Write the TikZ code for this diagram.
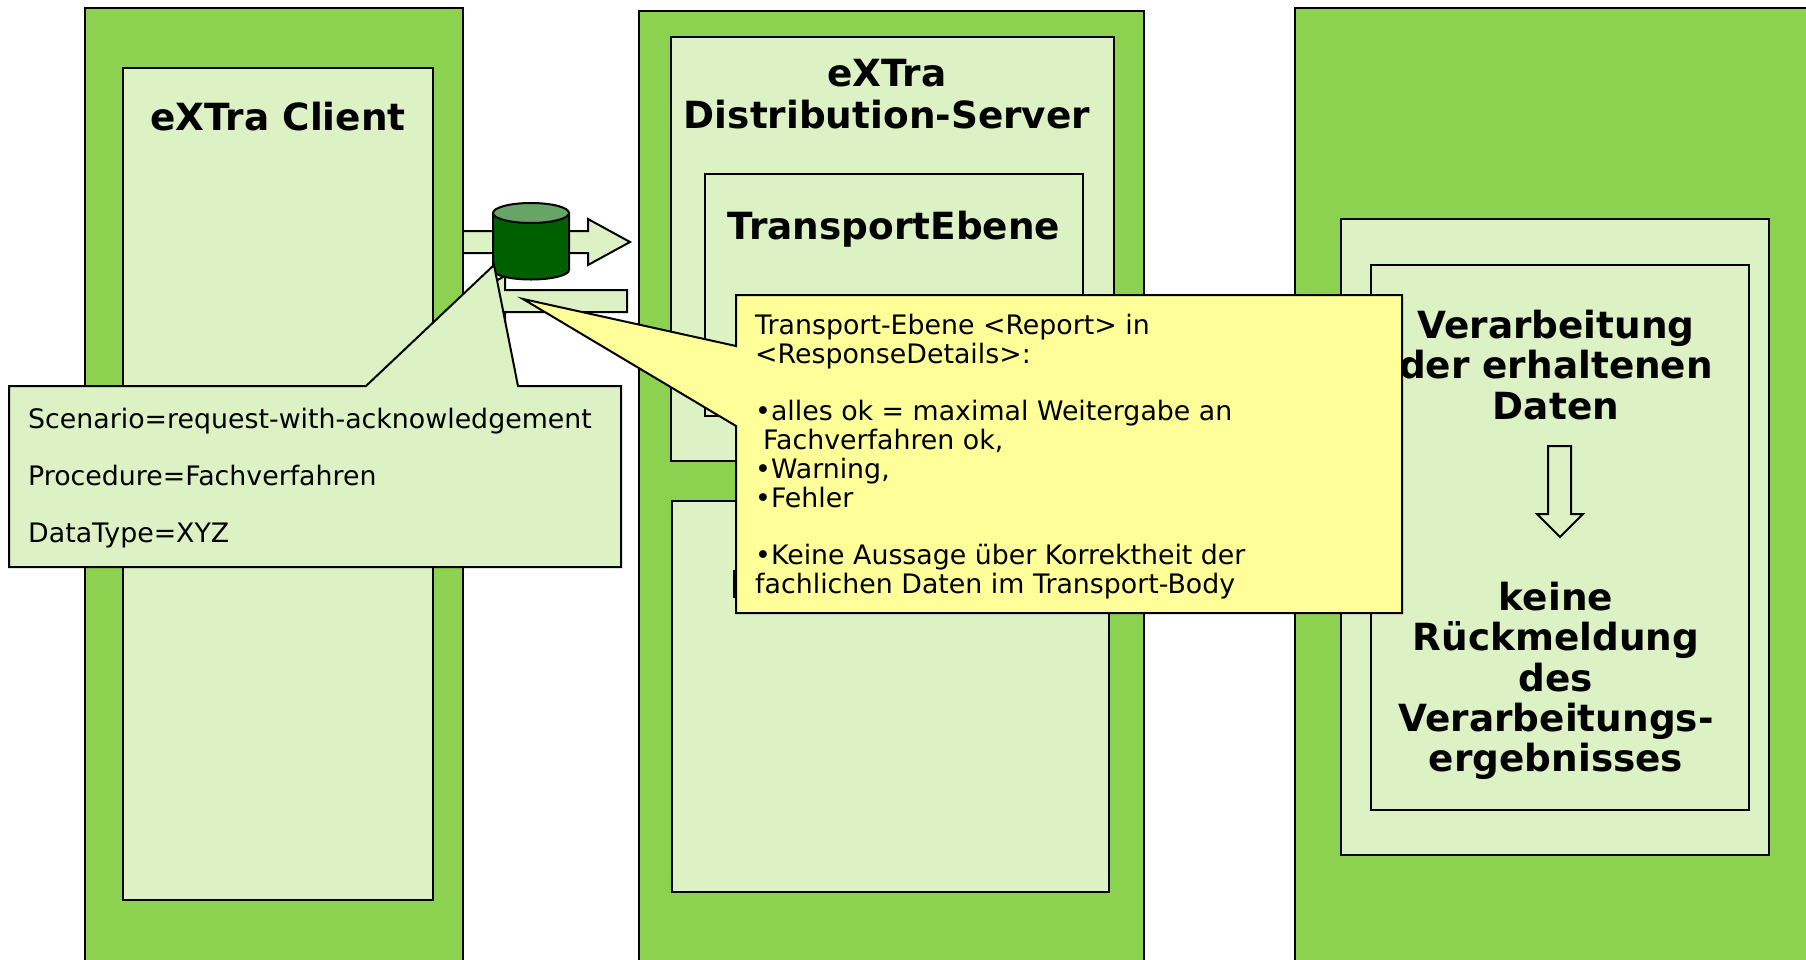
\documentclass[tikz,border=0pt]{standalone}
\usepackage{fontspec}
\setmainfont{DejaVu Sans}
\definecolor{outerg}{HTML}{8CD250}
\definecolor{lightg}{HTML}{DCF2C4}
\definecolor{noteY}{HTML}{FFFF99}
\definecolor{cylD}{HTML}{006000}
\definecolor{cylT}{HTML}{66A566}
\tikzset{
  panelO/.style={draw=black,fill=outerg,line width=2pt},
  panelI/.style={draw=black,fill=lightg,line width=2pt},
  noteG/.style={draw=black,fill=lightg,line width=2pt,line join=miter},
  noteYb/.style={draw=black,fill=noteY,line width=2pt,line join=miter},
  head/.style={inner sep=0pt,align=center,font=\bfseries\fontsize{37.4}{40.3}\selectfont},
  body/.style={inner sep=0pt,align=left,anchor=base west,font=\fontsize{26.8}{28.75}\selectfont},
  bodyblock/.style={body,anchor=north west},
}
\begin{document}
\begin{tikzpicture}[x=1pt,y=-1pt]
\useasboundingbox (0,0) rectangle (1806,959);
\clip (0,0) rectangle (1806,959);
% arrows between panels
\draw[panelI] (462,299) -- (505,276) -- (505,290) -- (627,290) -- (627,312) -- (505,312) -- (505,322) -- cycle;
\draw[panelI] (450,231) -- (588,231) -- (588,219) -- (630,242) -- (588,265) -- (588,253) -- (450,253) -- cycle;
% left
\draw[panelO] (85,8) rectangle (463,980);
\draw[panelI] (123,68) rectangle (433,900);
\node[head] (client) at (278,117) {eXTra Client};
% middle
\draw[panelO] (639,11) rectangle (1144,980);
\draw[panelI] (671,37) rectangle (1114,461);
\draw[panelI] (672,501) rectangle (1109,892);
\draw[panelI] (705,174) rectangle (1083,416);
\node[head] (dist) at (887,94) {eXTra\\[2pt]Distribution-Server};
\node[head] (trans) at (894,229) {TransportEbene};
\fill[black] (733,570) rectangle (737,598);
% right
\draw[panelO] (1295,8) rectangle (1830,980);
\draw[panelI] (1341,219) rectangle (1769,855);
\draw[panelI] (1371,265) rectangle (1749,810);
\node[head] (proc) at (1556,365) {Verarbeitung\\der erhaltenen\\Daten};
\node[head] (none) at (1556,681) {keine\\Rückmeldung\\des\\Verarbeitungs-\\ergebnisses};
\draw[draw=black,fill=lightg,line width=2pt] (1548,446) -- (1571,446) -- (1571,514) -- (1583,514) -- (1560,537) -- (1537,514) -- (1548,514) -- cycle;
% cylinder
\draw[fill=cylD,draw=black,line width=2pt] (493,213) -- (493,270) arc[start angle=180,end angle=0,x radius=38,y radius=9.5] -- (569,213) -- cycle;
\draw[fill=cylT,draw=black,line width=2pt] (531,213) ellipse[x radius=38,y radius=10];
% green callout
\draw[noteG] (9,386) -- (366,386) -- (494,265) -- (518,386) -- (621,386) -- (621,567) -- (9,567) -- cycle;
\node[body] (s1) at (28,428) {Scenario=request-with-acknowledgement};
\node[body] (s2) at (28,485) {Procedure=Fachverfahren};
\node[body] (s3) at (28,542) {DataType=XYZ};
% yellow callout
\draw[noteYb] (736,295) -- (1402,295) -- (1402,613) -- (736,613) -- (736,426) -- (523,299) -- (736,346) -- cycle;
\node[bodyblock] (y1) at (755,314) {Transport-Ebene <Report> in\\<ResponseDetails>:\\[28.75pt]%
•alles ok = maximal Weitergabe an\\\hspace*{8pt}Fachverfahren ok,\\•Warning,\\•Fehler\\[28.75pt]%
•Keine Aussage über Korrektheit der\\fachlichen Daten im Transport-Body};
\end{tikzpicture}
\end{document}
